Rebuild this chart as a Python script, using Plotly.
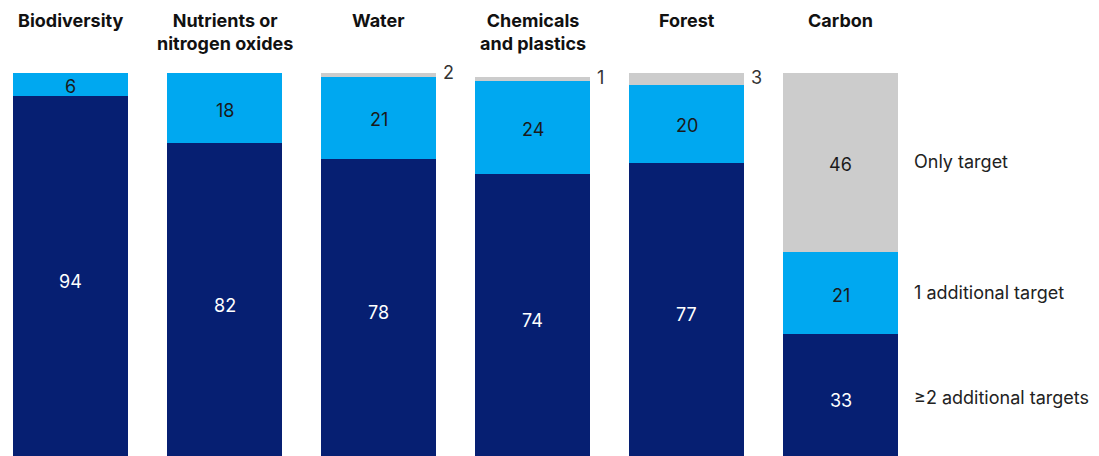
import plotly.graph_objects as go

categories = ["Biodiversity", "Nutrients or<br>nitrogen oxides", "Water",
              "Chemicals<br>and plastics", "Forest", "Carbon"]
two_plus = [94, 82, 78, 74, 77, 33]
one_additional = [6, 18, 21, 24, 20, 21]
only_target = [0, 0, 2, 1, 3, 46]
series_names = ["≥2 additional targets", "1 additional target", "Only target"]

DARK = "#061f72"
LIGHT = "#00a8f0"
GREY = "#cccccc"
FONT = "Inter"
BAR_W = 0.747

x = list(range(len(categories)))
fig = go.Figure()
for vals, col, name in [(two_plus, DARK, series_names[0]),
                        (one_additional, LIGHT, series_names[1]),
                        (only_target, GREY, series_names[2])]:
    fig.add_trace(go.Bar(x=x, y=vals, marker=dict(color=col, line=dict(width=0)),
                         width=BAR_W, name=name, showlegend=False, hoverinfo="skip"))

ann = []
# segment value labels
for i in x:
    segs = [(two_plus[i], "white"), (one_additional[i], "#1a1a1a"), (only_target[i], "#1a1a1a")]
    base = 0
    for v, tc in segs:
        if v >= 5:
            ann.append(dict(x=i, y=base + v / 2, text=str(v), showarrow=False,
                            font=dict(family=FONT, size=18, color=tc),
                            xanchor="center", yanchor="middle", yshift=-2))
        elif v > 0:
            ann.append(dict(x=i + BAR_W / 2, y=base + v / 2, text=str(v), showarrow=False,
                            font=dict(family=FONT, size=18, color="#333333"),
                            xanchor="left", yanchor="middle", xshift=5, yshift=1))
        base += v
    # category titles
    ann.append(dict(x=i, y=1 + 65 / 383, yref="paper", text="<b>" + categories[i] + "</b>",
                    showarrow=False, font=dict(family=FONT, size=18, color="#111111"),
                    xanchor="center", yanchor="top", align="center"))

# series labels beside the last bar
last = len(categories) - 1
base = 0
for v, name in zip([two_plus[last], one_additional[last], only_target[last]], series_names):
    ann.append(dict(x=last + BAR_W / 2, y=base + v / 2, text=name, showarrow=False,
                    font=dict(family=FONT, size=18, color="#222222"),
                    xanchor="left", yanchor="middle", xshift=14, yshift=1))
    base += v

fig.update_layout(
    barmode="stack",
    width=1099, height=456,
    margin=dict(l=0, r=0, t=73, b=0),
    paper_bgcolor="white", plot_bgcolor="white",
    xaxis=dict(range=[-70.5 / 154, (1099 - 70.5) / 154], visible=False, fixedrange=True),
    yaxis=dict(range=[1.8, 100], visible=False, fixedrange=True),
    annotations=ann,
    bargap=0,
)
fig.write_html("out.html")
